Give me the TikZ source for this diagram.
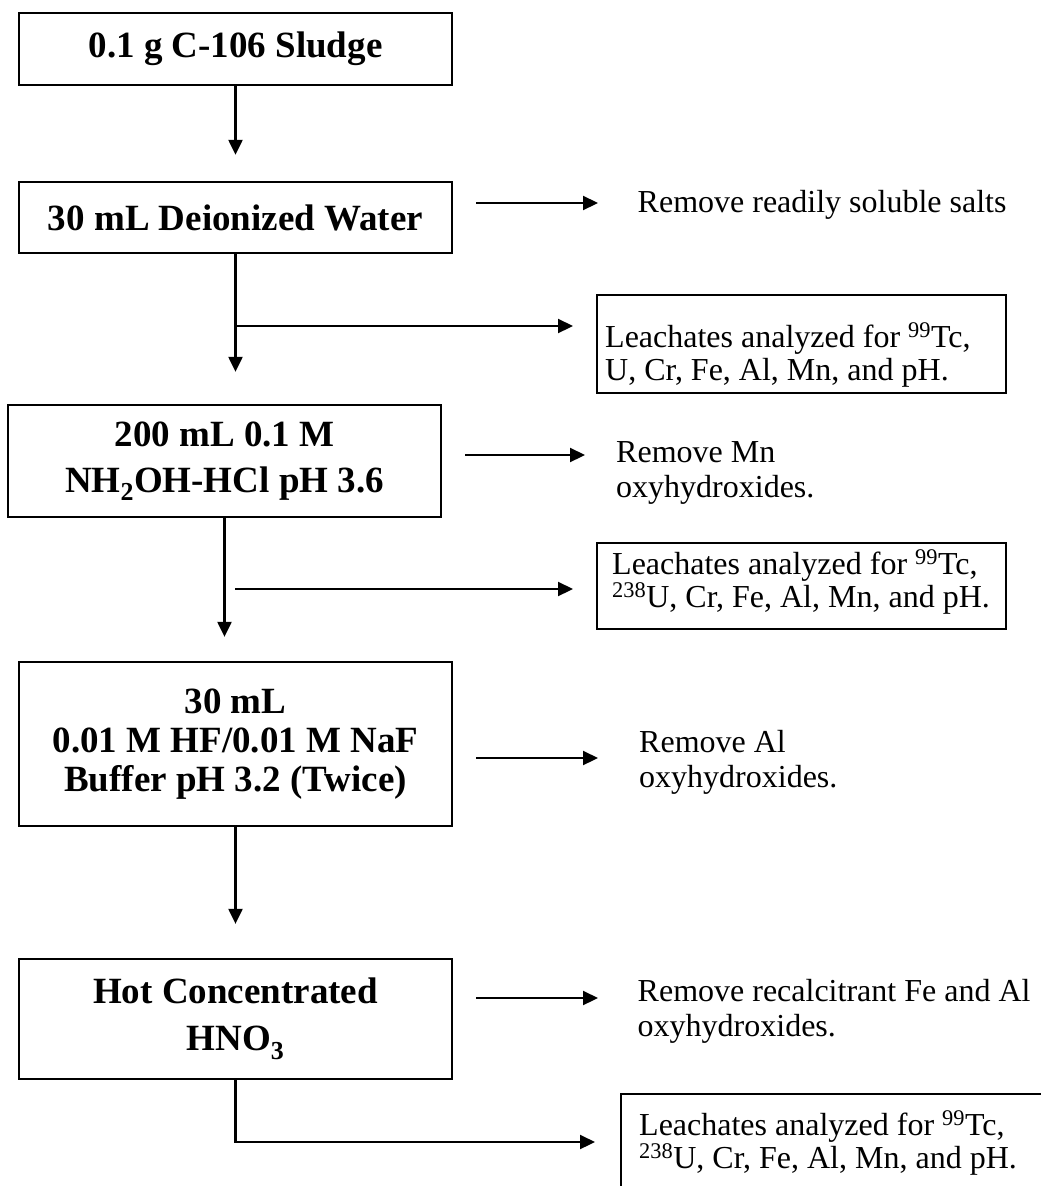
\documentclass[tikz,border=0pt]{standalone}
\usepackage{fontspec}
\setmainfont{Liberation Serif}
\usetikzlibrary{arrows.meta}
\begin{document}
\begin{tikzpicture}[x=1pt,y=-1pt,
  mainbox/.style={draw, line width=2.3pt, inner sep=0pt, align=center, minimum width=433pt},
  leachbox/.style={draw, line width=2.2pt, inner sep=0pt, anchor=north west},
  lbl/.style={inner sep=0pt, align=left, anchor=base west, font=\fontsize{32}{35}\selectfont},
  leachtext/.style={lbl, font=\fontsize{32}{33}\selectfont},
  arr/.style={line width=2.2pt, -{Triangle[length=15pt,width=14pt]}}
]
\useasboundingbox (0,0) rectangle (1041,1186);
\fill[white] (0,0) rectangle (1041,1186);
\clip (0,0) rectangle (1041,1186);

% main boxes
\node[mainbox, minimum height=72pt, font=\fontsize{37}{43}\selectfont\bfseries] (B1) at (235.5,49) {0.1 g C-106 Sludge};
\node[mainbox, minimum height=71pt, font=\fontsize{37}{43}\selectfont\bfseries] (B2) at (235.5,217.5) {30 mL Deionized Water};
\node[mainbox, minimum height=112pt, font=\fontsize{37}{46}\selectfont\bfseries] (B3) at (224.5,461) {200 mL 0.1 M\\NH\textsubscript{2}OH-HCl pH 3.6};
\node[mainbox, minimum height=164pt, font=\fontsize{37}{39}\selectfont\bfseries] (B4) at (235.5,744) {30 mL\\0.01 M HF/0.01 M NaF\\Buffer pH 3.2 (Twice)};
\node[mainbox, minimum height=120pt, font=\fontsize{37}{47}\selectfont\bfseries] (B5) at (235.5,1019) {Hot Concentrated\\HNO\textsubscript{3}};

% leachate boxes (text anchored at the baseline of its last line)
\node[leachbox, minimum width=409pt, minimum height=98pt] (L1) at (596,294) {};
\node[leachtext] (L1t) at (605,380) {Leachates analyzed for \textsuperscript{99}Tc,\\U, Cr, Fe, Al, Mn, and pH.};
\node[leachbox, minimum width=409pt, minimum height=86pt] (L2) at (596,542) {};
\node[leachtext] (L2t) at (612,607) {Leachates analyzed for \textsuperscript{99}Tc,\\\textsuperscript{238}U, Cr, Fe, Al, Mn, and pH.};
\node[leachbox, minimum width=500pt, minimum height=150pt] (L3) at (620,1093) {};
\node[leachtext] (L3t) at (639,1168) {Leachates analyzed for \textsuperscript{99}Tc,\\\textsuperscript{238}U, Cr, Fe, Al, Mn, and pH.};

% removal labels
\node[lbl] (R1) at (637.5,212) {Remove readily soluble salts};
\node[lbl] (R2) at (616,497) {Remove Mn\\oxyhydroxides.};
\node[lbl] (R3) at (639,787) {Remove Al\\oxyhydroxides.};
\node[lbl] (R4) at (637.5,1036) {Remove recalcitrant Fe and Al\\oxyhydroxides.};

% vertical flow
\draw[arr, shorten >=26pt] (B1.south) -- (B1.south |- B2.north);
\draw[arr, shorten >=32pt] (B2.south) -- (B2.south |- B3.north);
\draw[arr, shorten >=24pt] (B3.south) -- (B3.south |- B4.north);
\draw[arr, shorten >=34pt] (B4.south) -- (B4.south |- B5.north);

% branches to leachate boxes
\coordinate (k1) at (235.5,326);
\draw[arr, shorten >=23pt] (k1) -- (k1 -| L1.west);
\coordinate (k2) at (235,589);
\draw[arr, shorten >=23pt] (k2) -- (k2 -| L2.west);
\coordinate (k3) at (235.5,1142);
\draw[arr, shorten >=25pt] (B5.south) -- (k3) -- (k3 -| L3.west);

% removal arrows
\coordinate (r1) at (0,203);
\draw[arr, shorten <=23pt, shorten >=39.5pt] (B2.east |- r1) -- (R1.west |- r1);
\coordinate (r2) at (0,455);
\draw[arr, shorten <=23pt, shorten >=31pt] (B3.east |- r2) -- (R2.west |- r2);
\coordinate (r3) at (0,758);
\draw[arr, shorten <=23pt, shorten >=41pt] (B4.east |- r3) -- (R3.west |- r3);
\coordinate (r4) at (0,998);
\draw[arr, shorten <=23pt, shorten >=39.5pt] (B5.east |- r4) -- (R4.west |- r4);
\end{tikzpicture}
\end{document}
